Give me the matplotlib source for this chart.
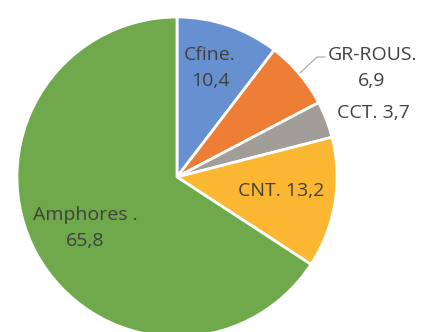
import matplotlib
matplotlib.use("Agg")
import matplotlib.pyplot as plt

categories = ["Cfine.", "GR-ROUS.", "CCT.", "CNT.", "Amphores ."]
values = [10.4, 6.9, 3.7, 13.2, 65.8]
value_labels = ["10,4", "6,9", "3,7", "13,2", "65,8"]

colors = ["#6690CF", "#EE7D35", "#A19D99", "#FBB731", "#6FA94B"]

W, H = 436, 332
fig = plt.figure(figsize=(W / 100, H / 100), dpi=100)
ax = fig.add_axes([0, 0, 1, 1])

cx, cy, r = 177, H - 177, 160
ax.pie(values, colors=colors, startangle=90, counterclock=False,
       center=(cx, cy), radius=r, frame=True,
       wedgeprops=dict(edgecolor="white", linewidth=2))
ax.set_xlim(0, W)
ax.set_ylim(0, H)
ax.set_aspect("equal")
ax.axis("off")

fs = 14
tc = "#404040"
fam = ["Open Sans", "DejaVu Sans"]

def t(x, y, s, **kw):
    ax.text(x, H - y, s, fontsize=fs, color=tc, family=fam,
            ha="center", va="center", linespacing=1.5, **kw)

t(210, 68, categories[0] + "\n" + value_labels[0])
t(372, 68, categories[1] + "\n" + value_labels[1])
t(373, 113, categories[2] + " " + value_labels[2])
t(281, 191, categories[3] + " " + value_labels[3])
t(85, 228, categories[4] + "\n" + value_labels[4])

# leader line for GR-ROUS.
ax.plot([300, 317, 325], [H - 73, H - 57, H - 57], color="#A6A6A6", lw=0.8)

fig.savefig("out.png", dpi=100)
